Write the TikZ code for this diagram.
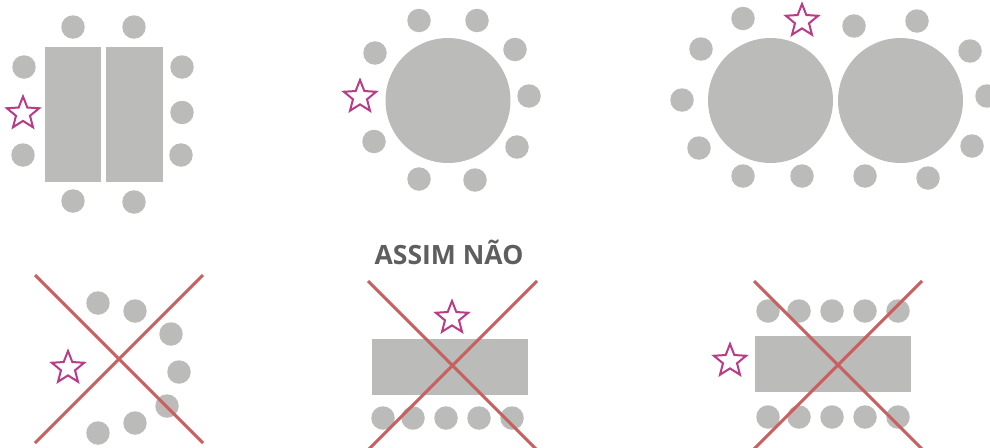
\documentclass[tikz,border=0pt]{standalone}
\usepackage{fontspec}
\setmainfont{Open Sans}
\usetikzlibrary{shapes.geometric}
\definecolor{mobil}{HTML}{BBBBBA}
\definecolor{starc}{HTML}{B83D87}
\definecolor{crossc}{HTML}{C95F5F}
\definecolor{titlec}{HTML}{5E5E5E}
\tikzset{
  chair/.style={circle,fill=mobil,inner sep=0pt,minimum size=0.47cm},
  rndtable/.style={circle,fill=mobil,inner sep=0pt,minimum size=2.5cm},
  tallbox/.style={rectangle,fill=mobil,inner sep=0pt,minimum width=1.13cm,minimum height=2.71cm},
  widebox/.style={rectangle,fill=mobil,inner sep=0pt,minimum width=3.13cm,minimum height=1.13cm},
  seat/.style={star,star points=5,star point ratio=2.3,draw=starc,fill=white,line width=1.15pt,inner sep=0pt,minimum size=0.68cm},
  crossline/.style={draw=crossc,line width=1.7pt}
}
\begin{document}
\begin{tikzpicture}[x=0.02cm,y=-0.02cm]
    \useasboundingbox (0,0) rectangle (990,447);
    \begin{scope}
    \clip (0,0) rectangle (990,447);
    % duas mesas retangulares
    \node[tallbox] (ta) at (73,114.7) {};
    \node[tallbox] (tb) at (134.7,114.7) {};
    \node[chair] (a1) at (73,27) {};
    \node[chair] (a2) at (134,27) {};
    \node[chair] (a3) at (24,67) {};
    \node[chair] (a4) at (182,67) {};
    \node[chair] (a5) at (182,112.5) {};
    \node[chair] (a6) at (23,155) {};
    \node[chair] (a7) at (181,155) {};
    \node[chair] (a8) at (73,201) {};
    \node[chair] (a9) at (134,202) {};
    \node[seat] (sa) at (23,113.5) {};

    % mesa redonda
    \node[rndtable] (tc) at (448,100.5) {};
    \node[chair] (b1) at (419,20.5) {};
    \node[chair] (b2) at (477,20.5) {};
    \node[chair] (b3) at (375,53) {};
    \node[chair] (b4) at (515,49.5) {};
    \node[chair] (b5) at (529,96) {};
    \node[chair] (b6) at (374,141.5) {};
    \node[chair] (b7) at (517,147) {};
    \node[chair] (b8) at (419,179) {};
    \node[chair] (b9) at (475,180) {};
    \node[seat] (sb) at (360,97) {};

    % duas mesas redondas
    \node[rndtable] (td) at (770.5,100.5) {};
    \node[rndtable] (te) at (900.5,100.5) {};
    \node[chair] (c1) at (743,18.5) {};
    \node[chair] (c2) at (854,26) {};
    \node[chair] (c3) at (917,21) {};
    \node[chair] (c4) at (701,49) {};
    \node[chair] (c5) at (970,51) {};
    \node[chair] (c6) at (682,100) {};
    \node[chair] (c7) at (987,96) {};
    \node[chair] (c8) at (699,148) {};
    \node[chair] (c9) at (972,146) {};
    \node[chair] (c10) at (743,176) {};
    \node[chair] (c11) at (802,176) {};
    \node[chair] (c12) at (865,176) {};
    \node[chair] (c13) at (928,178) {};
    \node[seat] (sc) at (802,21) {};

    \node[text=titlec,inner sep=0pt] (title) at (449,252) {\fontsize{15.1pt}{18pt}\selectfont\bfseries ASSIM NÃO};

    % cadeiras sem mesa
    \node[chair] (d1) at (98,303) {};
    \node[chair] (d2) at (135,311) {};
    \node[chair] (d3) at (171,334) {};
    \node[chair] (d4) at (179,372) {};
    \node[chair] (d5) at (167,406) {};
    \node[chair] (d6) at (135,423) {};
    \node[chair] (d7) at (98,433) {};
    \node[seat] (sd) at (68,368) {};
    \coordinate (xa1) at (35,275);
    \coordinate (xa2) at (203,443);
    \coordinate (xa3) at (203,275);
    \coordinate (xa4) at (35,443);
    \draw[crossline] (xa1) -- (xa2) (xa3) -- (xa4);

    % mesa com um lado
    \node[widebox] (tf) at (449.8,367) {};
    \node[chair] (e1) at (383,418) {};
    \node[chair] (e2) at (413,418) {};
    \node[chair] (e3) at (446,418) {};
    \node[chair] (e4) at (479,418) {};
    \node[chair] (e5) at (512,418) {};
    \node[seat] (se) at (452,318) {};
    \coordinate (xb1) at (368,281);
    \coordinate (xb2) at (537,450);
    \coordinate (xb3) at (537,281);
    \coordinate (xb4) at (368,450);
    \draw[crossline] (xb1) -- (xb2) (xb3) -- (xb4);

    % mesa com dois lados
    \node[widebox] (tg) at (833,364) {};
    \node[chair] (f1) at (768,311) {};
    \node[chair] (f2) at (799,311) {};
    \node[chair] (f3) at (832,311) {};
    \node[chair] (f4) at (865,311) {};
    \node[chair] (f5) at (898,311) {};
    \node[chair] (f6) at (768,417) {};
    \node[chair] (f7) at (799,417) {};
    \node[chair] (f8) at (832,417) {};
    \node[chair] (f9) at (865,417) {};
    \node[chair] (f10) at (898,417) {};
    \node[seat] (sf) at (730,361) {};
    \coordinate (xc1) at (754,281);
    \coordinate (xc2) at (923,450);
    \coordinate (xc3) at (922,281);
    \coordinate (xc4) at (753,450);
    \draw[crossline] (xc1) -- (xc2) (xc3) -- (xc4);
    \end{scope}
\end{tikzpicture}
\end{document}
